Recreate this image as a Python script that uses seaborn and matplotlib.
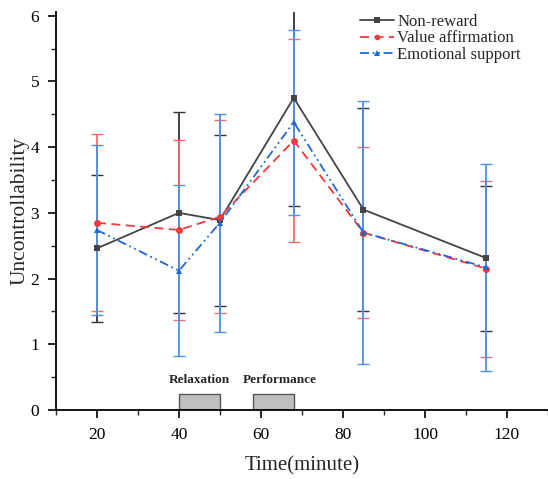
import numpy as np
import pandas as pd
import matplotlib.pyplot as plt
import seaborn as sns
from matplotlib.ticker import MultipleLocator

# time points (minutes)
times = [20, 40, 50, 68, 85, 115]

# group means
non_reward = [2.46, 3.00, 2.89, 4.75, 3.05, 2.31]
value_aff = [2.85, 2.74, 2.94, 4.10, 2.70, 2.15]
emotional = [2.74, 2.12, 2.85, 4.38, 2.70, 2.17]

# standard deviations
non_reward_sd = [1.12, 1.53, 1.30, 1.65, 1.55, 1.10]
value_aff_sd = [1.35, 1.37, 1.47, 1.55, 1.30, 1.34]
emotional_sd = [1.30, 1.30, 1.66, 1.41, 2.00, 1.58]

groups = ["Non-reward", "Value affirmation", "Emotional support"]

# task phases shown as grey blocks at the bottom
phase_names = ["Relaxation", "Performance"]
phase_start = [40, 58]
phase_end = [50, 68]
phase_height = 0.25


def build_frame():
    """Long-format table of means and sds for all groups."""
    rows = []
    for name, means, sds in zip(groups, [non_reward, value_aff, emotional],
                                [non_reward_sd, value_aff_sd, emotional_sd]):
        for t, m, s in zip(times, means, sds):
            rows.append({"Time": t, "Mean": m, "SD": s, "Group": name})
    return pd.DataFrame(rows)


def main():
    sns.set_theme(style="ticks")
    plt.rcParams["font.family"] = ["Liberation Serif", "DejaVu Serif"]

    df = build_frame()

    fig = plt.figure(figsize=(5.48, 4.79), dpi=100)
    ax = fig.add_axes([0.102, 0.144, 0.898, 0.83])

    line_colors = {"Non-reward": "#444444", "Value affirmation": "#ee3a3f",
                   "Emotional support": "#1f67d6"}
    err_colors = {"Non-reward": "#333333", "Value affirmation": "#f26d6d",
                  "Emotional support": "#4a93e6"}
    dashes = {"Non-reward": "", "Value affirmation": (5, 3),
              "Emotional support": (5, 2, 1, 2, 1, 2)}
    markers = {"Non-reward": "s", "Value affirmation": "o",
               "Emotional support": "^"}

    # error bars first
    for name in groups:
        sub = df[df["Group"] == name]
        ax.errorbar(sub["Time"], sub["Mean"], yerr=sub["SD"], fmt="none",
                    ecolor=err_colors[name], elinewidth=1.3, capsize=4,
                    capthick=1.0, zorder=2)

    sns.lineplot(data=df, x="Time", y="Mean", hue="Group", style="Group",
                 palette=line_colors, dashes=dashes, markers=markers,
                 markersize=5, markeredgewidth=0, linewidth=1.3,
                 ax=ax, zorder=3)

    # phase blocks, labels sit a little apart so they do not touch
    for i, (name, s, e) in enumerate(zip(phase_names, phase_start, phase_end)):
        ax.bar(s, phase_height, width=e - s, align="edge", color="#c0c0c0",
               edgecolor="#555555", linewidth=1.0, zorder=1)
        shift = 0.0 if i == 0 else 1.5
        ax.text((s + e) / 2 + shift, phase_height + 0.12, name, ha="center",
                va="bottom", fontsize=9.5, fontweight="bold")

    ax.set_xlim(10, 130)
    ax.set_ylim(0, 6.05)
    ax.xaxis.set_major_locator(MultipleLocator(20))
    ax.xaxis.set_minor_locator(MultipleLocator(10))
    ax.yaxis.set_major_locator(MultipleLocator(1))
    ax.yaxis.set_minor_locator(MultipleLocator(0.5))
    ax.set_xticks([20, 40, 60, 80, 100, 120])
    ax.tick_params(axis="both", which="major", direction="out", length=6,
                   width=1.2, labelsize=12.5, colors="black", pad=6)
    ax.tick_params(axis="both", which="minor", direction="out", length=3.5,
                   width=1.0)
    for side in ["top", "right"]:
        ax.spines[side].set_visible(False)
    for side in ["left", "bottom"]:
        ax.spines[side].set_linewidth(1.3)
        ax.spines[side].set_color("black")

    ax.set_xlabel("Time(minute)", fontsize=15, labelpad=10)
    ax.set_ylabel("Uncontrollability", fontsize=15.5, labelpad=1)

    leg = ax.legend(loc="upper right", bbox_to_anchor=(0.975, 1.035),
                    frameon=False, fontsize=12, handlelength=2.0,
                    handletextpad=0.2, labelspacing=0.05)
    for h in leg.legend_handles:
        h.set_markersize(4)

    fig.savefig("out.png", dpi=100)


if __name__ == "__main__":
    main()
